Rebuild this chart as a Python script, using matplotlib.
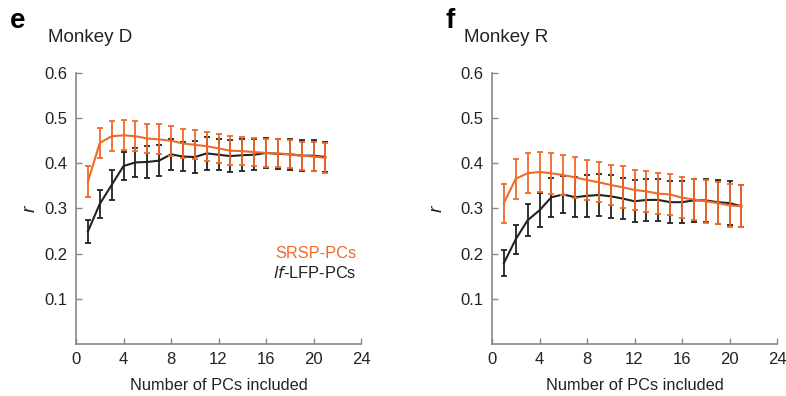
import matplotlib
matplotlib.use("Agg")
import matplotlib.pyplot as plt
import numpy as np

n_pcs = list(range(1, 22))

# Monkey D
srsp_D = [0.359, 0.445, 0.460, 0.462, 0.460, 0.455, 0.453, 0.450, 0.444, 0.441, 0.438,
          0.433, 0.428, 0.427, 0.425, 0.423, 0.422, 0.420, 0.417, 0.415, 0.412]
srsp_D_err = [0.034, 0.034, 0.033, 0.033, 0.033, 0.033, 0.033, 0.033, 0.032, 0.032, 0.032,
              0.033, 0.032, 0.031, 0.031, 0.031, 0.031, 0.031, 0.031, 0.032, 0.033]
lfp_D = [0.249, 0.310, 0.352, 0.394, 0.402, 0.403, 0.406, 0.420, 0.415, 0.414, 0.422,
         0.419, 0.416, 0.418, 0.419, 0.423, 0.421, 0.420, 0.417, 0.417, 0.414]
lfp_D_err = [0.026, 0.031, 0.033, 0.032, 0.033, 0.035, 0.034, 0.034, 0.033, 0.035, 0.036,
             0.034, 0.036, 0.035, 0.034, 0.034, 0.033, 0.034, 0.034, 0.035, 0.034]

# Monkey R
srsp_R = [0.312, 0.366, 0.378, 0.381, 0.378, 0.374, 0.369, 0.363, 0.358, 0.352, 0.347,
          0.341, 0.338, 0.333, 0.331, 0.324, 0.320, 0.316, 0.312, 0.307, 0.305]
srsp_R_err = [0.043, 0.044, 0.044, 0.045, 0.045, 0.045, 0.046, 0.045, 0.044, 0.045, 0.046,
              0.045, 0.046, 0.045, 0.045, 0.045, 0.045, 0.047, 0.046, 0.047, 0.047]
lfp_R = [0.179, 0.232, 0.274, 0.296, 0.325, 0.331, 0.325, 0.328, 0.330, 0.327, 0.322,
         0.316, 0.319, 0.319, 0.314, 0.314, 0.318, 0.318, 0.314, 0.312, 0.305]
lfp_R_err = [0.029, 0.032, 0.035, 0.038, 0.043, 0.042, 0.044, 0.046, 0.046, 0.047, 0.046,
             0.046, 0.046, 0.047, 0.046, 0.047, 0.047, 0.048, 0.048, 0.049, 0.047]

titles = ["Monkey D", "Monkey R"]
letters = ["e", "f"]
xticks = [0, 4, 8, 12, 16, 20, 24]
yticks = [0.1, 0.2, 0.3, 0.4, 0.5, 0.6]

ORANGE = "#f06a28"
BLACK = "#222222"
SPINE = "#888888"

plt.rcParams['font.family'] = ['Liberation Sans', 'DejaVu Sans']

fig = plt.figure(figsize=(7.86, 3.96), dpi=100)
ax1 = fig.add_axes([76/786, 52/396, 285/786, 271/396])
ax2 = fig.add_axes([492/786, 52/396, 285/786, 271/396])

data = [(srsp_D, srsp_D_err, lfp_D, lfp_D_err), (srsp_R, srsp_R_err, lfp_R, lfp_R_err)]
ypads = [4, 11]

for i, (ax, (s, se, l, le)) in enumerate(zip([ax1, ax2], data)):
    ax.errorbar(n_pcs, l, yerr=le, color=BLACK, lw=1.5, elinewidth=1.3,
                capsize=2.5, capthick=1.3, zorder=2)
    ax.errorbar(n_pcs, s, yerr=se, color=ORANGE, lw=1.5, elinewidth=1.3,
                capsize=2.5, capthick=1.3, zorder=3)
    ax.set_xlim(0, 24)
    ax.set_ylim(0, 0.6)
    ax.set_xticks(xticks)
    ax.set_yticks(yticks)
    ax.set_yticklabels([f"{v:.1f}" for v in yticks])
    for sp in ["top", "right"]:
        ax.spines[sp].set_visible(False)
    for sp in ["left", "bottom"]:
        ax.spines[sp].set_color(SPINE)
        ax.spines[sp].set_linewidth(1.2)
    ax.tick_params(direction="in", length=4, width=1.0, color=SPINE,
                   labelsize=12, labelcolor="#222222", pad=6)
    ax.set_xlabel("Number of PCs included", fontsize=11.8, color="#222222", labelpad=8)
    ax.set_ylabel("r", fontsize=14, fontstyle="italic", color="#222222", labelpad=ypads[i])
    ax.set_title(titles[i], fontsize=13.5, loc="left", color="#222222",
                 x=-0.1, y=1.115, pad=0)

fig.text(10/786, 1 - 21/396, "e", fontsize=20, fontweight="bold", va="center")
fig.text(446/786, 1 - 21/396, "f", fontsize=20, fontweight="bold", va="center")

ax1.text(23.6, 0.200, "SRSP-PCs", color=ORANGE, fontsize=11.8, ha="right", va="center")
ax1.text(23.6, 0.157, r"$\it{lf}$" + "-LFP-PCs", color=BLACK, fontsize=11.8, ha="right", va="center")

fig.savefig("out.png", dpi=100)
